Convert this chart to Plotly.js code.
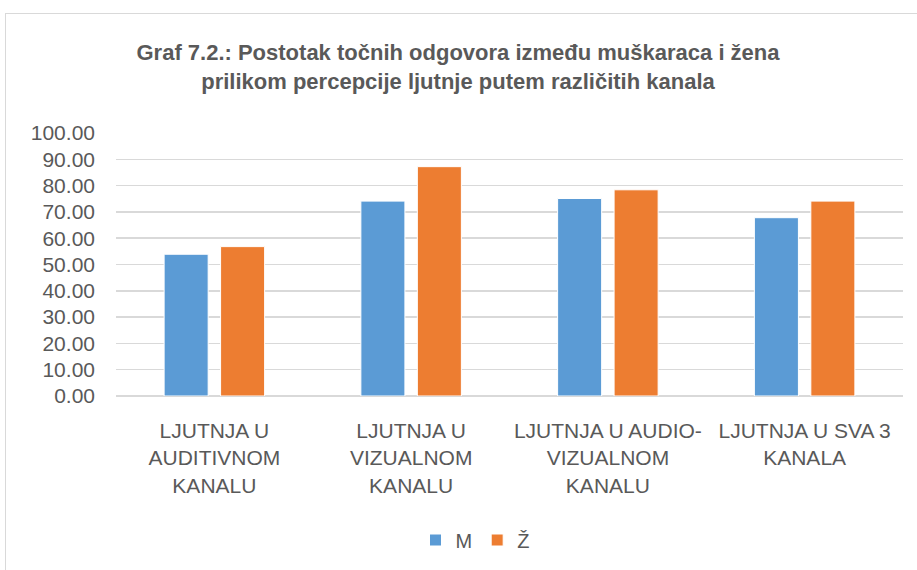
<!DOCTYPE html>
<html>
<head>
<meta charset="utf-8">
<script src="https://cdn.plot.ly/plotly-3.0.1.min.js"></script>
<style>
  html, body { margin: 0; padding: 0; background: #fff; overflow: hidden; }
  #chart { width: 917px; height: 570px; position: absolute; left: 0; top: 0; }
  #frame { position: absolute; left: 5px; top: 13px; width: 1000px; height: 700px;
           border: 1px solid #d9d9d9; pointer-events: none; }
</style>
</head>
<body>
<div id="chart"></div>
<div id="frame"></div>
<script>
const categories = [
  "LJUTNJA U<br>AUDITIVNOM<br>KANALU",
  "LJUTNJA U<br>VIZUALNOM<br>KANALU",
  "LJUTNJA U AUDIO-<br>VIZUALNOM<br>KANALU",
  "LJUTNJA U SVA 3<br>KANALA"
];
const seriesNames = ["M", "Ž"];
const valuesM = [53.9, 74.1, 75.1, 67.8];
const valuesZ = [56.8, 87.2, 78.4, 74.1];
const yTickVals = [0, 10, 20, 30, 40, 50, 60, 70, 80, 90, 100];

const textColor = "#595959";
const fontFamily = "'Liberation Sans', Arial, sans-serif";

const traces = [
  { type: "bar", name: seriesNames[0], x: categories, y: valuesM,
    marker: { color: "#5B9BD5", line: { color: "#ffffff", width: 1 } } },
  { type: "bar", name: seriesNames[1], x: categories, y: valuesZ,
    marker: { color: "#ED7D31", line: { color: "#ffffff", width: 1 } } }
];

const layout = {
  width: 917, height: 570,
  paper_bgcolor: "rgba(0,0,0,0)", plot_bgcolor: "#fff",
  margin: { l: 116, r: 14, t: 133, b: 174 },
  font: { family: fontFamily, color: textColor, size: 20 },
  title: {
    text: "<b>Graf 7.2.: Postotak točnih odgovora između muškaraca i žena<br>prilikom percepcije ljutnje putem različitih kanala</b>",
    font: { family: fontFamily, size: 22, color: textColor },
    x: 458 / 917, xref: "container", xanchor: "center",
    y: 1 - 60 / 570, yref: "container", yanchor: "top"
  },
  barmode: "group",
  bargap: 0.426,
  bargroupgap: 0.22,
  xaxis: {
    tickangle: 0, showgrid: false, zeroline: false, showline: false,
    tickfont: { size: 21, color: textColor }, ticklabelstandoff: 20
  },
  yaxis: {
    range: [0, 100], tickvals: yTickVals,
    tickformat: ".2f",
    showgrid: true, gridcolor: "#d9d9d9", gridwidth: 1.5,
    zeroline: true, zerolinecolor: "#d9d9d9", zerolinewidth: 1.5,
    showline: false, tickfont: { size: 21, color: textColor },
    ticklabelstandoff: 20
  },
  showlegend: true,
  legend: {
    orientation: "h", xref: "container", yref: "container",
    x: 475 / 917, xanchor: "center", y: 1 - 540 / 570, yanchor: "middle",
    font: { size: 20, color: textColor }, itemwidth: 30, tracegroupgap: 0
  }
};

Plotly.newPlot("chart", traces, layout, { displayModeBar: false, staticPlot: true });
</script>
</body>
</html>
